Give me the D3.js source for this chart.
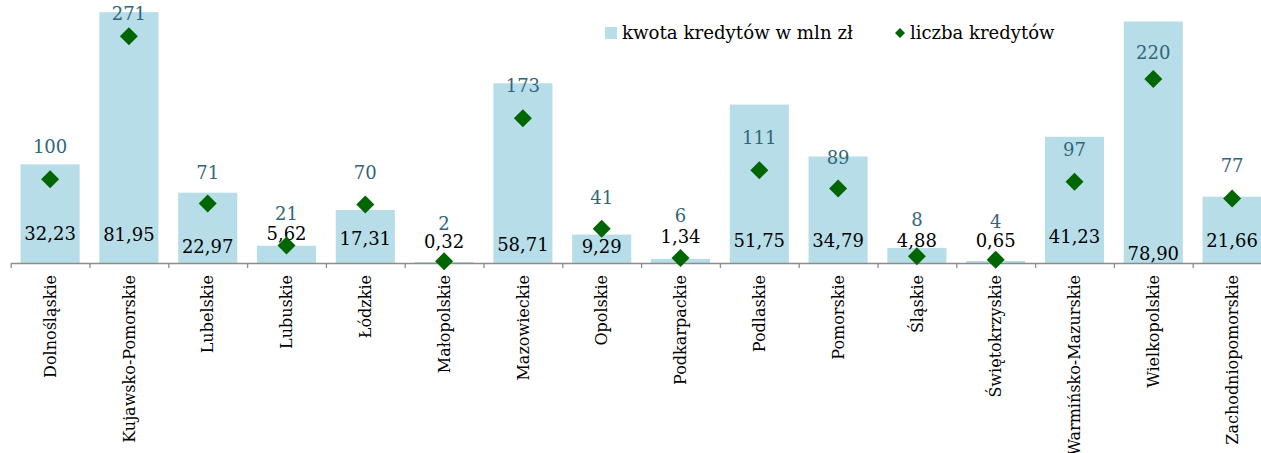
<!DOCTYPE html>
<html>
<head>
<meta charset="utf-8">
<script src="https://cdn.jsdelivr.net/npm/d3@7"></script>
<style>
  body { margin: 0; background: #fff; }
  svg text { font-family: "DejaVu Serif", "Liberation Serif", serif; }
</style>
</head>
<body>
<svg id="chart" width="1261" height="453"></svg>
<script>
// Regions (voivodeships)
const regions = [
  "Dolnośląskie", "Kujawsko-Pomorskie", "Lubelskie", "Lubuskie", "Łódzkie",
  "Małopolskie", "Mazowieckie", "Opolskie", "Podkarpackie", "Podlaskie",
  "Pomorskie", "Śląskie", "Świętokrzyskie", "Warmińsko-Mazurskie",
  "Wielkopolskie", "Zachodniopomorskie"
];
// Loan amount, mln zł
const amounts = [32.23, 81.95, 22.97, 5.62, 17.31, 0.32, 58.71, 9.29, 1.34, 51.75, 34.79, 4.88, 0.65, 41.23, 78.90, 21.66];
// Number of loans
const counts = [100, 271, 71, 21, 70, 2, 173, 41, 6, 111, 89, 8, 4, 97, 220, 77];
// Legend entries
const seriesNames = ["kwota kredytów w mln zł", "liczba kredytów"];

// Label placement (px): lift of amount labels above the baseline,
// gap of count labels above their markers
const amountLabelLift = [29, 28, 16, 29, 24, 21, 18, 16, 26, 22, 22, 22, 22, 26, 9, 22];
const countLabelGap   = [33, 23, 31, 32, 32, 38, 33, 31, 42, 33, 31, 37, 38, 32, 26, 33];

const colors = { bar: "#b7dde8", marker: "#006600", countText: "#31667a", axis: "#8c8c8c" };

const svg = d3.select("#chart");
const baseY = 263, topY = 12;
const left = 10.7, right = 1271.5;

const x = d3.scaleBand().domain(regions).range([left, right])
  .paddingInner(0.25).paddingOuter(0.125);
const yAmount = d3.scaleLinear().domain([0, 82]).range([baseY, topY]);
const yCount = d3.scaleLinear().domain([0, 300]).range([baseY, topY]);

const plFormat = d3.formatLocale({ decimal: ",", thousands: " ", grouping: [3], currency: ["", " zł"] });
const fmt2 = plFormat.format(".2f");

const rows = regions.map((r, i) => ({ r, amount: amounts[i], count: counts[i], i }));

// Bars
svg.append("g").selectAll("rect").data(rows).join("rect")
  .attr("x", d => x(d.r))
  .attr("width", x.bandwidth())
  .attr("y", d => yAmount(d.amount))
  .attr("height", d => baseY - yAmount(d.amount))
  .attr("fill", colors.bar);

// Category axis with ticks on band boundaries
const edge = d3.scaleLinear().domain([0, regions.length]).range([left, left + x.step() * regions.length]);
const axisG = svg.append("g").attr("transform", `translate(0,${baseY})`)
  .call(d3.axisBottom(edge).tickValues(d3.range(regions.length + 1)).tickFormat("").tickSize(5).tickSizeOuter(0));
axisG.select(".domain").attr("stroke", colors.axis).attr("stroke-width", 1.3);
axisG.selectAll(".tick line").attr("stroke", colors.axis).attr("stroke-width", 1.3);

// Category labels, rotated
svg.append("g").selectAll("text").data(rows).join("text")
  .attr("transform", d => `translate(${x(d.r) + x.bandwidth() / 2},275) rotate(-90)`)
  .attr("text-anchor", "end")
  .attr("dy", "0.35em")
  .attr("font-size", 16)
  .attr("fill", "#000")
  .text(d => d.r);

// Amount labels
svg.append("g").selectAll("text").data(rows).join("text")
  .attr("x", d => x(d.r) + x.bandwidth() / 2)
  .attr("y", d => baseY - amountLabelLift[d.i])
  .attr("text-anchor", "middle")
  .attr("dy", "0.36em")
  .attr("font-size", 18)
  .attr("fill", "#000")
  .text(d => fmt2(d.amount));

// Count markers
const diamond = d3.symbol(d3.symbolSquare, 162);
svg.append("g").selectAll("path").data(rows).join("path")
  .attr("d", diamond)
  .attr("transform", d => `translate(${x(d.r) + x.bandwidth() / 2},${yCount(d.count)}) rotate(45)`)
  .attr("fill", colors.marker);

// Count labels
svg.append("g").selectAll("text").data(rows).join("text")
  .attr("x", d => x(d.r) + x.bandwidth() / 2)
  .attr("y", d => yCount(d.count) - countLabelGap[d.i])
  .attr("text-anchor", "middle")
  .attr("dy", "0.36em")
  .attr("font-size", 18)
  .attr("fill", colors.countText)
  .text(d => d.count);

// Legend
const legend = svg.append("g");
legend.append("rect").attr("x", 605).attr("y", 27).attr("width", 12).attr("height", 12).attr("fill", colors.bar);
legend.append("text").attr("x", 622).attr("y", 39).attr("font-size", 18.2).attr("fill", "#000").text(seriesNames[0]);
legend.append("path").attr("d", d3.symbol(d3.symbolSquare, 50))
  .attr("transform", "translate(900,33) rotate(45)").attr("fill", colors.marker);
legend.append("text").attr("x", 910).attr("y", 39).attr("font-size", 18).attr("fill", "#000").text(seriesNames[1]);
</script>
</body>
</html>
